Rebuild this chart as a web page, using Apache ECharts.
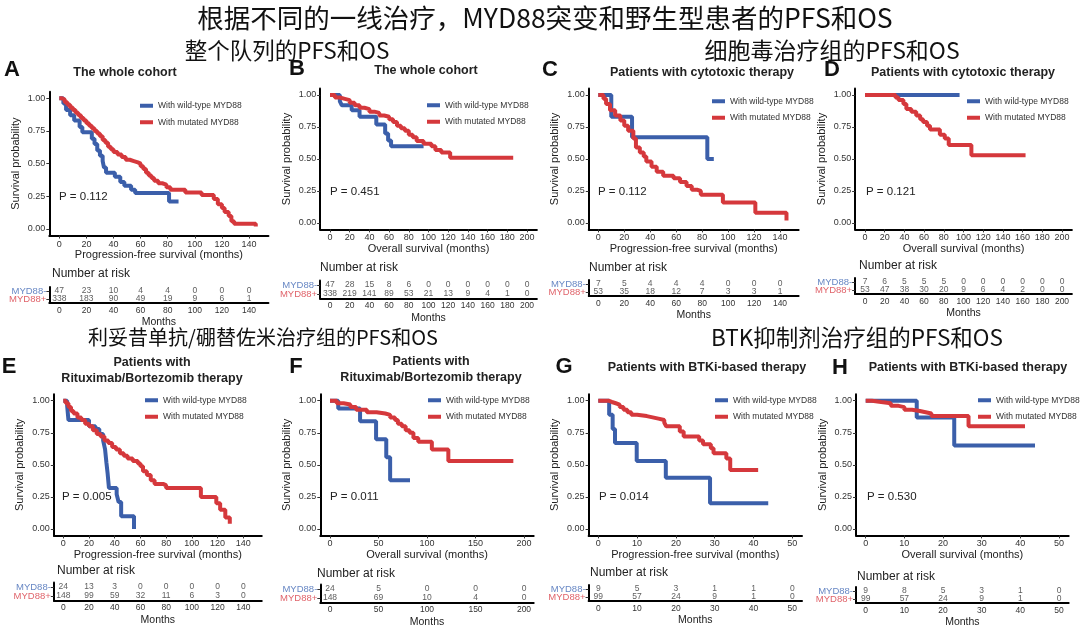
<!DOCTYPE html>
<html><head><meta charset="utf-8">
<script src="https://cdn.jsdelivr.net/npm/echarts@6/dist/echarts.min.js"></script>
<style>html,body{margin:0;padding:0;background:#fff}#c{width:1080px;height:635px}</style>
</head><body><div id="c"></div>
<script>
// ---------- DATA (months, survival probability) ----------
const A_wild = [[0,1],[3,0.96],[5,0.91],[8,0.87],[11,0.83],[15,0.78],[17,0.74],[24,0.69],[26,0.65],[28,0.60],[30,0.56],[32,0.52],[33,0.47],[34.5,0.43],[41,0.40],[45,0.36],[48,0.33],[53,0.30],[56,0.275],[81,0.21],[88,0.21]];
const A_mut = [[0,1],[2,0.99],[4,0.97],[6,0.95],[8,0.93],[10,0.91],[12,0.89],[14,0.87],[16,0.85],[18,0.83],[20,0.81],[22,0.79],[24,0.77],[26,0.75],[28,0.73],[30,0.71],[32,0.68],[34,0.66],[36,0.63],[38,0.61],[40,0.59],[43,0.57],[46,0.55],[49,0.53],[52,0.52],[55,0.51],[58,0.50],[60,0.48],[62,0.46],[64,0.43],[66,0.41],[68,0.39],[70,0.37],[73,0.35],[76,0.34],[79,0.32],[82,0.30],[93,0.28],[105,0.26],[114,0.23],[117,0.19],[120,0.16],[122,0.13],[125,0.10],[127,0.06],[129,0.04],[142,0.04],[145,0.02]];
const B_wild = [[0,1],[10,0.95],[12,0.92],[22,0.88],[30,0.83],[47,0.77],[56,0.70],[59,0.645],[62,0.60],[95,0.60]];
const B_mut = [[0,1],[5,0.98],[10,0.97],[15,0.96],[20,0.94],[25,0.92],[30,0.90],[35,0.89],[40,0.87],[45,0.86],[50,0.84],[55,0.83],[60,0.81],[64,0.79],[68,0.76],[72,0.74],[76,0.72],[80,0.69],[84,0.67],[88,0.64],[95,0.62],[103,0.60],[107,0.57],[113,0.55],[122,0.51],[186,0.51]];
const C_wild = [[0,1],[10,0.83],[26,0.67],[84,0.50],[89,0.50]];
const C_mut = [[0,1],[4,0.97],[6,0.93],[9,0.88],[13,0.84],[17,0.80],[20,0.76],[23,0.72],[27,0.66],[29,0.59],[32,0.55],[35,0.52],[37,0.48],[41,0.44],[45,0.40],[50,0.37],[58,0.35],[63,0.32],[68,0.29],[72,0.26],[76,0.25],[79,0.22],[96,0.16],[121,0.08],[145,0.02]];
const D_wild = [[0,1],[96,1]];
const D_mut = [[0,1],[31,0.98],[34,0.96],[39,0.93],[42,0.89],[47,0.87],[52,0.84],[56,0.81],[59,0.79],[63,0.76],[66,0.73],[76,0.69],[81,0.66],[85,0.61],[108,0.53],[163,0.53]];
const E_wild = [[0,1],[3,0.96],[4,0.85],[20,0.80],[25,0.78],[28,0.74],[31,0.69],[32.5,0.62],[33.5,0.52],[34.5,0.43],[35.5,0.32],[41.5,0.27],[43,0.21],[45,0.10],[55,0.0]];
const E_mut = [[0,1],[2,0.98],[4,0.95],[6,0.92],[8,0.90],[11,0.87],[14,0.85],[17,0.82],[20,0.80],[23,0.77],[26,0.74],[29,0.72],[32,0.69],[35,0.67],[38,0.64],[41,0.62],[44,0.59],[47,0.57],[50,0.55],[54,0.53],[58,0.51],[60,0.49],[62,0.45],[65,0.42],[68,0.38],[71,0.35],[78,0.34],[80,0.32],[107,0.25],[119,0.20],[122,0.15],[126,0.09],[129.5,0.04]];
const F_wild = [[0,1],[8.5,0.94],[31,0.84],[47.5,0.70],[58,0.56],[62,0.38],[82.5,0.38]];
const F_mut = [[0,1],[7,0.98],[14,0.97],[21,0.95],[27,0.93],[38,0.91],[48,0.90],[57,0.89],[62,0.87],[67,0.85],[70,0.82],[74,0.80],[78,0.77],[82,0.75],[86,0.71],[91,0.68],[105,0.62],[122,0.53],[189,0.53]];
const G_wild = [[0,1],[2.8,0.89],[3.7,0.78],[4.3,0.67],[9.9,0.53],[17.4,0.40],[28.8,0.20],[43.8,0.20]];
const G_mut = [[0,1],[2.6,0.99],[3.5,0.98],[4.5,0.97],[5.5,0.95],[6.5,0.93],[7.5,0.91],[8.5,0.89],[10,0.88],[12.5,0.87],[14,0.86],[15.5,0.85],[17,0.83],[17.5,0.80],[21,0.76],[22,0.72],[26,0.69],[27,0.66],[29,0.63],[29.7,0.59],[33,0.55],[34,0.46],[41.2,0.46]];
const H_wild = [[0,1],[13.2,0.87],[22.9,0.65],[43.8,0.65]];
const H_mut = [[0,1],[1.6,0.99],[4,0.98],[6.5,0.96],[8.5,0.95],[10,0.93],[12,0.92],[14,0.91],[15.5,0.90],[17,0.88],[26.6,0.80],[41.2,0.80]];

// risk tables
const ticks140 = [0,20,40,60,80,100,120,140];
const ticks200by20 = [0,20,40,60,80,100,120,140,160,180,200];
const ticks200by50 = [0,50,100,150,200];
const ticks50 = [0,10,20,30,40,50];
const A_riskWild = [47,23,10,4,4,0,0,0];
const A_riskMut = [338,183,90,49,19,9,6,1];
const B_riskWild = [47,28,15,8,6,0,0,0,0,0,0];
const B_riskMut = [338,219,141,89,53,21,13,9,4,1,0];
const C_riskWild = [7,5,4,4,4,0,0,0];
const C_riskMut = [53,35,18,12,7,3,3,1];
const D_riskWild = [7,6,5,5,5,0,0,0,0,0,0];
const D_riskMut = [53,47,38,30,20,9,6,4,2,0,0];
const E_riskWild = [24,13,3,0,0,0,0,0];
const E_riskMut = [148,99,59,32,11,6,3,0];
const F_riskWild = [24,5,0,0,0];
const F_riskMut = [148,69,10,4,0];
const G_riskWild = [9,5,3,1,1,0];
const G_riskMut = [99,57,24,9,1,0];
const H_riskWild = [9,8,5,3,1,0];
const H_riskMut = [99,57,24,9,1,0];

const pValues = ['P = 0.112','P = 0.451','P = 0.112','P = 0.121','P = 0.005','P = 0.011','P = 0.014','P = 0.530'];
const panelTitles = [['The whole cohort'],['The whole cohort'],['Patients with cytotoxic therapy'],['Patients with cytotoxic therapy'],
  ['Patients with','Rituximab/Bortezomib therapy'],['Patients with','Rituximab/Bortezomib therapy'],['Patients with BTKi-based therapy'],['Patients with BTKi-based therapy']];
const PFS = 'Progression-free survival (months)', OS = 'Overall survival (months)';
const seriesNames = ['With wild-type MYD88','With mutated MYD88'];
const rowNames = ['MYD88+','MYD88-'];
const yTicks = [0,0.25,0.5,0.75,1];

// ---------- LAYOUT ----------
const BLUE = '#3b5faa', RED = '#d5383c', BLUE_L = '#6787c4', RED_L = '#e0646b';
const FONT = '"Liberation Sans", Arial, sans-serif';
const CJK = '"Noto Sans CJK SC", sans-serif';

const panels = [
 {L:'A',letter:[12,70],title:[125,73],legend:[140,101],p:[59,197],nar:[52,274],rows:[291,299],x0:59.3,xM:249,tmax:140,lim:[-7.35,154.35],y1:98.3,y0:229,wild:A_wild,mut:A_mut,ticks:ticks140,rw:A_riskWild,rm:A_riskMut,xname:PFS},
 {L:'B',letter:[297,69],title:[426,71],legend:[427,100.5],p:[330,192],nar:[320,268],rows:[285,294],x0:330,xM:527,tmax:200,lim:[-10,210],y1:95,y0:223,wild:B_wild,mut:B_mut,ticks:ticks200by20,rw:B_riskWild,rm:B_riskMut,xname:OS},
 {L:'C',letter:[550,70],title:[702,73],legend:[712,96.5],p:[598,192],nar:[589,268],rows:[284,292],x0:598.3,xM:780,tmax:140,lim:[-7.35,154.35],y1:95,y0:223,wild:C_wild,mut:C_mut,ticks:ticks140,rw:C_riskWild,rm:C_riskMut,xname:PFS},
 {L:'D',letter:[832,70],title:[963,73],legend:[967,96.5],p:[866,192],nar:[859,266],rows:[282,290],x0:865,xM:1062,tmax:200,lim:[-10,210],y1:95,y0:223,wild:D_wild,mut:D_mut,ticks:ticks200by20,rw:D_riskWild,rm:D_riskMut,xname:OS},
 {L:'E',letter:[9,367],title:[152,363],legend:[145,395.5],p:[62,497],nar:[57,571],rows:[587,596],x0:63.3,xM:243.3,tmax:140,lim:[-7.35,154.35],y1:400.7,y0:529,wild:E_wild,mut:E_mut,ticks:ticks140,rw:E_riskWild,rm:E_riskMut,xname:PFS},
 {L:'F',letter:[296,367],title:[431,362],legend:[428,395.5],p:[330,497],nar:[317,574],rows:[589,598],x0:330,xM:524,tmax:200,lim:[-10,210],y1:400.7,y0:529,wild:F_wild,mut:F_mut,ticks:ticks200by50,rw:F_riskWild,rm:F_riskMut,xname:OS},
 {L:'G',letter:[564,367],title:[707,368],legend:[715,395.5],p:[599,497],nar:[590,573],rows:[589,597],x0:598.3,xM:792.3,tmax:50,lim:[-2.5,52.5],y1:400.7,y0:529,wild:G_wild,mut:G_mut,ticks:ticks50,rw:G_riskWild,rm:G_riskMut,xname:PFS},
 {L:'H',letter:[840,368],title:[968,368],legend:[978,395.5],p:[867,497],nar:[857,577],rows:[591,599],x0:865.7,xM:1059,tmax:50,lim:[-2.5,52.5],y1:400.7,y0:529,wild:H_wild,mut:H_mut,ticks:ticks50,rw:H_riskWild,rm:H_riskMut,xname:OS}
];

const grids = [], xAxes = [], yAxes = [], series = [], legends = [], graphics = [];
function txt(x, y, text, size, o) {
  o = o || {};
  return {type:'text', x:x, y:y, silent:true, style:{text:text, fontSize:size, fontFamily:o.family||FONT, fontWeight:o.weight||'normal',
    fill:o.color||'#222', align:o.align||'left', verticalAlign:'middle', textAlign:o.align||'left', textVerticalAlign:'middle'}};
}
const axisLineStyle = {show:true, onZero:false, lineStyle:{color:'#000', width:2}};

panels.forEach((p, i) => {
  const u = (p.xM - p.x0) / p.tmax;
  const left = p.x0 + p.lim[0] * u, right = p.x0 + p.lim[1] * u;
  const v = p.y0 - p.y1;
  const top = p.y1 - 0.05 * v, bottom = p.y0 + 0.05 * v;
  grids[i] = {left:left, top:top, width:right-left, height:bottom-top, outerBoundsMode:'none', containLabel:false};
  const rh = 2 * (p.rows[1] - p.rows[0]);
  const rtop = p.rows[0] - (p.rows[1] - p.rows[0]) / 2;
  grids[8 + i] = {left:left, top:rtop, width:right-left, height:rh, outerBoundsMode:'none', containLabel:false};

  xAxes[i] = {type:'value', gridIndex:i, min:p.lim[0], max:p.lim[1], splitLine:{show:false}, axisLine:axisLineStyle,
    axisTick:{customValues:p.ticks, length:3, lineStyle:{color:'#333'}},
    axisLabel:{customValues:p.ticks, fontSize:9, color:'#333', margin:4, fontFamily:FONT},
    name:p.xname, nameLocation:'middle', nameGap:13, nameTextStyle:{fontSize:11, color:'#222', fontFamily:FONT}};
  yAxes[i] = {type:'value', gridIndex:i, min:-0.05, max:1.05, splitLine:{show:false}, axisLine:axisLineStyle,
    axisTick:{customValues:yTicks, length:3, lineStyle:{color:'#333'}},
    axisLabel:{customValues:yTicks, formatter:(val)=>Number(val).toFixed(2), fontSize:9, color:'#333', margin:4, fontFamily:FONT},
    name:'Survival probability', nameLocation:'middle', nameGap:28, nameTextStyle:{fontSize:11, color:'#222', fontFamily:FONT}};
  xAxes[8 + i] = {type:'value', gridIndex:8 + i, min:p.lim[0], max:p.lim[1], splitLine:{show:false}, axisLine:axisLineStyle,
    axisTick:{show:false},
    axisLabel:{customValues:p.ticks, fontSize:8.5, color:'#333', margin:3, fontFamily:FONT},
    name:'Months', nameLocation:'middle', nameGap:14, nameTextStyle:{fontSize:10.5, color:'#222', fontFamily:FONT}};
  yAxes[8 + i] = {type:'category', gridIndex:8 + i, data:rowNames, axisLine:axisLineStyle,
    axisTick:{show:true, length:3, alignWithLabel:true, interval:0, lineStyle:{color:'#333'}},
    axisLabel:{interval:0, fontSize:9.5, margin:3, fontFamily:FONT, color:(val)=> val === 'MYD88-' ? BLUE_L : RED_L}};

  series.push({type:'line', name:seriesNames[0], xAxisIndex:i, yAxisIndex:i, data:p.wild, step:'end', showSymbol:false, symbol:'none',
    lineStyle:{width:4, color:BLUE}, itemStyle:{color:BLUE}, z:3, silent:true, animation:false});
  series.push({type:'line', name:seriesNames[1], xAxisIndex:i, yAxisIndex:i, data:p.mut, step:'end', showSymbol:false, symbol:'none',
    lineStyle:{width:4, color:RED}, itemStyle:{color:RED}, z:4, silent:true, animation:false});
  const riskData = p.ticks.map((t, k) => [t, 'MYD88-', p.rw[k]]).concat(p.ticks.map((t, k) => [t, 'MYD88+', p.rm[k]]));
  series.push({type:'scatter', name:'risk'+i, xAxisIndex:8 + i, yAxisIndex:8 + i, data:riskData, symbolSize:1,
    itemStyle:{color:'rgba(0,0,0,0)'}, silent:true, animation:false,
    label:{show:true, position:'inside', formatter:(q)=>String(q.value[2]), fontSize:8.5, color:'#333', fontFamily:FONT}});

  legends.push({data:seriesNames, left:p.legend[0], top:p.legend[1], orient:'vertical', icon:'rect', itemWidth:13, itemHeight:4,
    itemGap:7, padding:0, selectedMode:false, textStyle:{fontSize:8.5, color:'#333', lineHeight:9.5, fontFamily:FONT}});

  graphics.push(txt(p.letter[0], p.letter[1], p.L, 22, {weight:'bold', color:'#111', align:'center'}));
  panelTitles[i].forEach((line, k) => graphics.push(txt(p.title[0], p.title[1] + k * 16, line, 12.5, {weight:'bold', color:'#222', align:'center'})));
  graphics.push(txt(p.p[0], p.p[1], pValues[i], 11.5, {color:'#222'}));
  graphics.push(txt(p.nar[0], p.nar[1], 'Number at risk', 12, {color:'#222'}));
});

graphics.push(txt(545, 18, '根据不同的一线治疗，MYD88突变和野生型患者的PFS和OS', 26.5, {family:CJK, color:'#111', align:'center'}));
graphics.push(txt(287, 50, '整个队列的PFS和OS', 22.5, {family:CJK, color:'#111', align:'center'}));
graphics.push(txt(832, 50, '细胞毒治疗组的PFS和OS', 23, {family:CJK, color:'#111', align:'center'}));
graphics.push(txt(263, 337, '利妥昔单抗/硼替佐米治疗组的PFS和OS', 20, {family:CJK, color:'#111', align:'center'}));
graphics.push(txt(857, 337, 'BTK抑制剂治疗组的PFS和OS', 22.5, {family:CJK, color:'#111', align:'center'}));

const chart = echarts.init(document.getElementById('c'), null, {renderer:'canvas'});
chart.setOption({
  animation:false,
  backgroundColor:'#fff',
  textStyle:{fontFamily:FONT},
  grid:grids, xAxis:xAxes, yAxis:yAxes, series:series, legend:legends,
  graphic:{elements:graphics}
});
</script>
</body></html>
